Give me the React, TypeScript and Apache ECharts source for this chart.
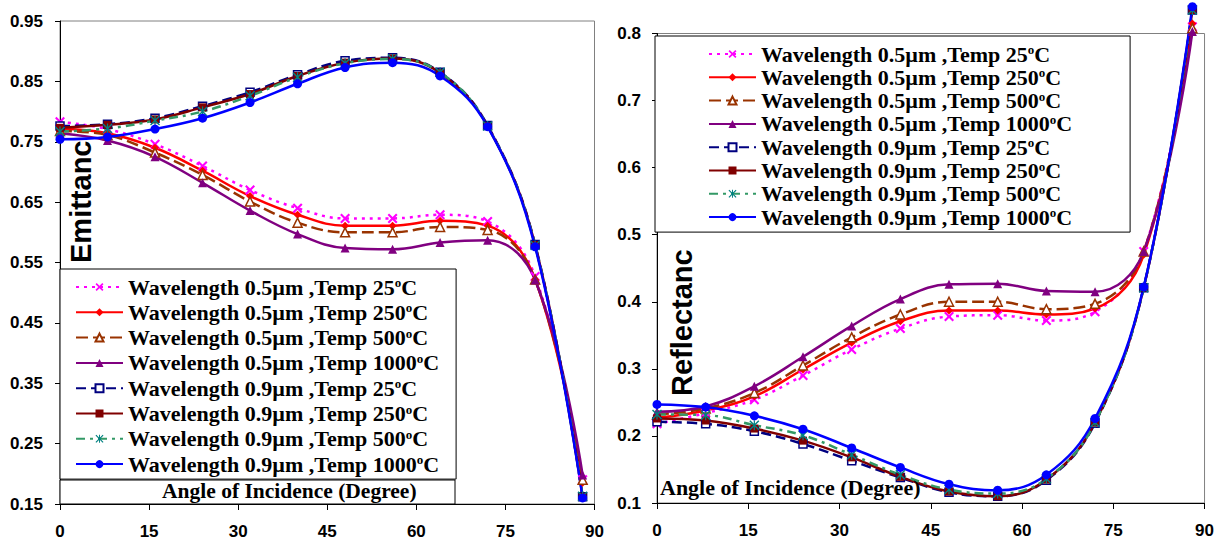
import React, { useEffect, useRef } from 'react';
import * as echarts from 'echarts';

// Angle of incidence (degree)
const angles = [0, 8, 16, 24, 32, 40, 48, 56, 64, 72, 80, 88];

// Emittance
const e05_25 = [0.783, 0.771, 0.746, 0.71, 0.67, 0.64, 0.623, 0.623, 0.629, 0.618, 0.527, 0.19];
const e05_250 = [0.772, 0.764, 0.74, 0.702, 0.66, 0.629, 0.611, 0.611, 0.619, 0.611, 0.522, 0.185];
const e05_500 = [0.768, 0.761, 0.732, 0.695, 0.651, 0.616, 0.6, 0.6, 0.609, 0.604, 0.522, 0.19];
const e05_1000 = [0.764, 0.752, 0.725, 0.682, 0.636, 0.597, 0.574, 0.572, 0.583, 0.587, 0.521, 0.198];
const e09_25 = [0.776, 0.779, 0.789, 0.809, 0.832, 0.861, 0.884, 0.889, 0.865, 0.777, 0.58, 0.162];
const e09_250 = [0.773, 0.778, 0.787, 0.807, 0.829, 0.859, 0.881, 0.888, 0.864, 0.776, 0.579, 0.162];
const e09_500 = [0.767, 0.772, 0.785, 0.8, 0.826, 0.857, 0.88, 0.887, 0.865, 0.776, 0.578, 0.163];
const e09_1000 = [0.754, 0.758, 0.771, 0.789, 0.815, 0.846, 0.873, 0.881, 0.859, 0.775, 0.576, 0.16];

// Reflectance
const r05_25 = [0.218, 0.234, 0.254, 0.29, 0.329, 0.36, 0.378, 0.38, 0.372, 0.385, 0.475, 0.81];
const r05_250 = [0.227, 0.238, 0.259, 0.299, 0.339, 0.371, 0.387, 0.387, 0.381, 0.39, 0.47, 0.815];
const r05_500 = [0.232, 0.241, 0.264, 0.305, 0.347, 0.381, 0.4, 0.4, 0.389, 0.397, 0.475, 0.808];
const r05_1000 = [0.236, 0.244, 0.274, 0.318, 0.364, 0.404, 0.426, 0.427, 0.416, 0.415, 0.475, 0.803];
const r09_25 = [0.221, 0.218, 0.207, 0.188, 0.163, 0.138, 0.116, 0.11, 0.134, 0.219, 0.421, 0.835];
const r09_250 = [0.226, 0.223, 0.211, 0.193, 0.168, 0.139, 0.117, 0.11, 0.135, 0.22, 0.421, 0.835];
const r09_500 = [0.232, 0.231, 0.216, 0.201, 0.172, 0.142, 0.12, 0.114, 0.136, 0.22, 0.421, 0.835];
const r09_1000 = [0.247, 0.243, 0.23, 0.21, 0.182, 0.153, 0.128, 0.119, 0.142, 0.226, 0.422, 0.84];

const seriesNames = [
  'Wavelength 0.5µm ,Temp 25°C',
  'Wavelength 0.5µm ,Temp 250°C',
  'Wavelength 0.5µm ,Temp 500°C',
  'Wavelength 0.5µm ,Temp 1000°C',
  'Wavelength 0.9µm ,Temp 25°C',
  'Wavelength 0.9µm ,Temp 250°C',
  'Wavelength 0.9µm ,Temp 500°C',
  'Wavelength 0.9µm ,Temp 1000°C',
];

const xTicks = [0, 15, 30, 45, 60, 75, 90];
const leftYTicks = [0.15, 0.25, 0.35, 0.45, 0.55, 0.65, 0.75, 0.85, 0.95];

const emitData = [e05_25, e05_250, e05_500, e05_1000, e09_25, e09_250, e09_500, e09_1000];
const reflData = [r05_25, r05_250, r05_500, r05_1000, r09_25, r09_250, r09_500, r09_1000];

const X_PATH = 'path://M0,1.5L1.5,0L5,3.5L8.5,0L10,1.5L6.5,5L10,8.5L8.5,10L5,6.5L1.5,10L0,8.5L3.5,5Z';
const STAR_PATH = 'path://M0,1L1,0L5,4L9,0L10,1L6,5L10,9L9,10L5,6L1,10L0,9L4,5Z M4.4,0L5.6,0L5.6,10L4.4,10Z';

const styles: any[] = [
  { line: '#FF00FF', type: [3, 5], symbol: X_PATH, size: 10, fill: '#FF00FF', border: '#FF00FF' },
  { line: '#FF0000', type: 'solid', symbol: 'diamond', size: 8, fill: '#FF0000', border: '#FF0000' },
  { line: '#993300', type: [12, 5], symbol: 'triangle', size: 9, fill: '#FFFFFF', border: '#993300' },
  { line: '#800080', type: 'solid', symbol: 'triangle', size: 9, fill: '#800080', border: '#800080' },
  { line: '#000080', type: [10, 5], symbol: 'rect', size: 8, fill: '#FFFFFF', border: '#000080' },
  { line: '#800000', type: 'solid', symbol: 'rect', size: 8, fill: '#800000', border: '#800000' },
  { line: '#339966', type: [9, 5, 3, 5], symbol: STAR_PATH, size: 10, fill: '#008080', border: '#008080' },
  { line: '#0000FF', type: 'solid', symbol: 'circle', size: 9, fill: '#0000FF', border: '#0000FF' },
];

const tickFont = { fontFamily: 'Liberation Sans', fontWeight: 'bold', fontSize: 17, color: '#000' };

function buildSeries(data: number[][], axisIndex: number) {
  return data.map((vals, i) => {
    const s = styles[i];
    return {
      name: seriesNames[i],
      type: 'line',
      xAxisIndex: axisIndex,
      yAxisIndex: axisIndex,
      data: angles.map((a, k) => [a, vals[k]]),
      smooth: 0.4,
      clip: false,
      symbol: s.symbol,
      symbolSize: s.size,
      showAllSymbol: true,
      lineStyle: { color: s.line, width: 2.5, type: s.type, cap: 'butt' },
      itemStyle: { color: s.fill, borderColor: s.border, borderWidth: s.fill === '#FFFFFF' ? 1.5 : 0, opacity: 1 },
      emphasis: { disabled: true },
    };
  });
}

const legendRich = {
  sup: { fontFamily: 'Liberation Serif', fontWeight: 'bold', fontSize: 13, lineHeight: 8, verticalAlign: 'top', color: '#000' },
};

function legendFormatter(name: string) {
  return name.replace('°', '{sup|o}');
}

const legendText = { fontFamily: 'Liberation Serif', fontWeight: 'bold', fontSize: 22, lineHeight: 22, color: '#000', rich: legendRich };

export default function App() {
  const ref = useRef<HTMLDivElement>(null);
  useEffect(() => {
    if (!ref.current) return;
    const chart = echarts.init(ref.current, undefined, { renderer: 'svg' });
    const option: any = {
      animation: false,
      backgroundColor: '#fff',
      grid: [
        { left: 60, top: 21, width: 534.5, height: 483, show: true, borderColor: '#808080', borderWidth: 1, backgroundColor: 'transparent' },
        { left: 657, top: 33.5, width: 548, height: 469.5, show: true, borderColor: '#808080', borderWidth: 1, backgroundColor: 'transparent' },
      ],
      xAxis: [0, 1].map((gi) => ({
        type: 'value',
        gridIndex: gi,
        min: 0,
        max: 90,
        interval: 15,
        axisLine: { show: true, onZero: false, lineStyle: { color: '#000', width: 1 } },
        axisTick: { show: true, inside: false, length: 6, lineStyle: { color: '#000' } },
        axisLabel: { ...tickFont, margin: 19, customValues: xTicks },
        splitLine: { show: false },
      })),
      yAxis: [
        {
          type: 'value',
          gridIndex: 0,
          min: 0.15,
          max: 0.95,
          axisLine: { show: true, onZero: false, lineStyle: { color: '#000', width: 1 } },
          axisTick: { show: true, inside: false, length: 5, lineStyle: { color: '#000' }, customValues: leftYTicks },
          axisLabel: { ...tickFont, margin: 17, customValues: leftYTicks, formatter: (v: number) => v.toFixed(2) },
          splitLine: { show: false },
        },
        {
          type: 'value',
          gridIndex: 1,
          min: 0.1,
          max: 0.8,
          interval: 0.1,
          axisLine: { show: true, onZero: false, lineStyle: { color: '#000', width: 1 } },
          axisTick: { show: true, inside: false, length: 5, lineStyle: { color: '#000' } },
          axisLabel: { ...tickFont, margin: 16, formatter: (v: number) => v.toFixed(1) },
          splitLine: { show: false },
        },
      ],
      legend: [
        {
          orient: 'vertical',
          left: 60,
          top: 269,
          padding: [7, 17, 4, 15],
          itemWidth: 47,
          itemHeight: 10,
          itemGap: 3.3,
          borderColor: '#000',
          borderWidth: 1,
          backgroundColor: '#fff',
          data: seriesNames,
          formatter: legendFormatter,
          textStyle: legendText,
          selectedMode: false,
          z: 10,
        },
        {
          orient: 'vertical',
          left: 655,
          top: 36,
          padding: [7, 58, 4, 53],
          itemWidth: 47,
          itemHeight: 10,
          itemGap: 1.3,
          borderColor: '#000',
          borderWidth: 1,
          backgroundColor: '#fff',
          data: seriesNames,
          formatter: legendFormatter,
          textStyle: legendText,
          selectedMode: false,
          z: 10,
        },
      ],
      graphic: [
        {
          type: 'rect',
          shape: { x: 60, y: 480, width: 395, height: 24 },
          style: { fill: '#fff', stroke: '#000', lineWidth: 1 },
          z: 9,
        },
        {
          type: 'text',
          x: 162,
          y: 491,
          style: { text: 'Angle of Incidence (Degree)', fontFamily: 'Liberation Serif', fontWeight: 'bold', fontSize: 21.5, fill: '#000', textAlign: 'left', textVerticalAlign: 'middle' },
          z: 11,
        },
        {
          type: 'text',
          x: 660,
          y: 487.5,
          style: { text: 'Angle of Incidence (Degree)', fontFamily: 'Liberation Serif', fontWeight: 'bold', fontSize: 22, fill: '#000', textAlign: 'left', textVerticalAlign: 'middle' },
          z: 11,
        },
        {
          type: 'text',
          x: 81,
          y: 263,
          rotation: Math.PI / 2,
          style: { text: 'Emittanc', fontFamily: 'Liberation Sans', fontWeight: 'bold', fontSize: 29, fill: '#000', textAlign: 'left', textVerticalAlign: 'middle' },
          z: 11,
        },
        {
          type: 'text',
          x: 682,
          y: 396,
          rotation: Math.PI / 2,
          style: { text: 'Reflectanc', fontFamily: 'Liberation Sans', fontWeight: 'bold', fontSize: 29, fill: '#000', textAlign: 'left', textVerticalAlign: 'middle' },
          z: 11,
        },
      ],
      series: [...buildSeries(emitData, 0), ...buildSeries(reflData, 1)],
    };
    chart.setOption(option);
    return () => chart.dispose();
  }, []);
  return <div ref={ref} style={{ position: 'absolute', left: 0, top: 0, width: 1217, height: 542 }} />;
}
